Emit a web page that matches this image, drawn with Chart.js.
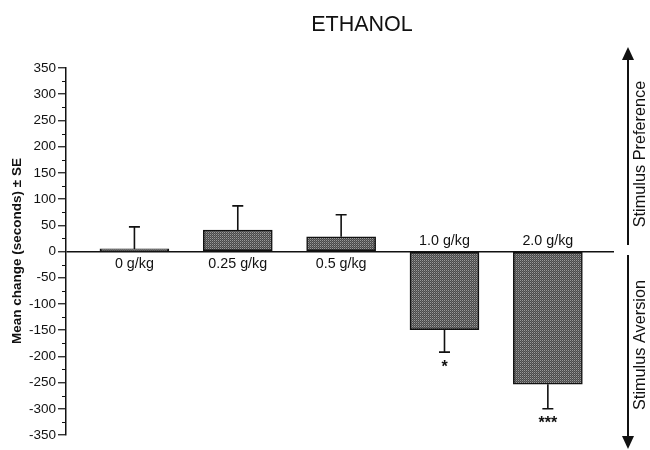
<!DOCTYPE html>
<html>
<head>
<meta charset="utf-8">
<script src="https://cdn.jsdelivr.net/npm/chart.js@4.4.0/dist/chart.umd.min.js"></script>
<style>
html,body{margin:0;padding:0;background:#fff;}
#wrap{width:650px;height:450px;position:relative;}
</style>
</head>
<body>
<div id="wrap"><canvas id="c" width="650" height="450"></canvas></div>
<script>
// ---- data ----
const categories = ["0 g/kg", "0.25 g/kg", "0.5 g/kg", "1.0 g/kg", "2.0 g/kg"];
const means = [5, 41, 28, -149, -253];
const errors = [42, 46, 42, 43, 47];
const significance = ["", "", "", "*", "***"];
const yTicks = [-350, -300, -250, -200, -150, -100, -50, 0, 50, 100, 150, 200, 250, 300, 350];
const titleText = "ETHANOL";
const yAxisLabel = "Mean change (seconds) \u00B1 SE";
const sideLabels = ["Stimulus Preference", "Stimulus Aversion"];

// ---- stipple pattern for bars ----
function makePattern() {
  const p = document.createElement('canvas');
  p.width = 2; p.height = 2;
  const g = p.getContext('2d');
  g.fillStyle = '#4a4a4a'; g.fillRect(0, 0, 2, 2);
  g.fillStyle = '#9a9a9a'; g.fillRect(0, 0, 1, 1);
  g.fillStyle = '#6a6a6a'; g.fillRect(1, 1, 1, 1);
  return g.createPattern(p, 'repeat');
}
const ctx = document.getElementById('c').getContext('2d');
const pattern = makePattern();

const FONT = "'Liberation Sans', Arial, Helvetica, sans-serif";

const decorPlugin = {
  id: 'decor',
  afterDatasetsDraw(chart) {
    const c = chart.ctx;
    const ys = chart.scales.y;
    const meta = chart.getDatasetMeta(0);
    c.save();
    c.strokeStyle = '#111'; c.lineWidth = 1.6;
    means.forEach((m, i) => {
      const bar = meta.data[i];
      const xc = bar.x;
      const y0 = ys.getPixelForValue(m);
      const y1 = ys.getPixelForValue(m + Math.sign(m || 1) * errors[i]);
      c.beginPath(); c.moveTo(xc, y0); c.lineTo(xc, y1);
      c.moveTo(xc - 5.5, y1); c.lineTo(xc + 5.5, y1); c.stroke();
      c.fillStyle = '#111';
      c.font = '14.3px ' + FONT;
      c.textAlign = 'center';
      const yz = ys.getPixelForValue(0);
      if (m >= 0) { c.textBaseline = 'top'; c.fillText(categories[i], xc, yz + 5); }
      else { c.textBaseline = 'bottom'; c.fillText(categories[i], xc, yz - 3); }
      if (significance[i]) {
        c.font = 'bold 16px ' + FONT;
        c.textBaseline = 'top';
        c.fillText(significance[i], xc, y1 + 7);
      }
    });
    c.restore();
  },
  afterDraw(chart) {
    const c = chart.ctx;
    const ys = chart.scales.y;
    const area = chart.chartArea;
    c.save();
    // minor ticks
    c.strokeStyle = '#111'; c.lineWidth = 1;
    for (let v = ys.min; v <= ys.max; v += 25) {
      if (v % 50 !== 0) {
        const y = Math.round(ys.getPixelForValue(v)) + 0.5;
        c.beginPath(); c.moveTo(area.left - 4, y); c.lineTo(area.left, y); c.stroke();
      }
    }
    // title
    c.fillStyle = '#111';
    c.font = '21.5px ' + FONT;
    c.textAlign = 'center'; c.textBaseline = 'middle';
    c.fillText(titleText, 362, 25);
    // y axis label
    c.save();
    c.translate(17, 251); c.rotate(-Math.PI / 2);
    c.font = 'bold 13.5px ' + FONT;
    c.fillText(yAxisLabel, 0, 0);
    c.restore();
    // side arrows
    const ax = 628;
    c.strokeStyle = '#111'; c.lineWidth = 2;
    c.beginPath(); c.moveTo(ax, 58); c.lineTo(ax, 245); c.stroke();
    c.beginPath(); c.moveTo(ax, 255); c.lineTo(ax, 438); c.stroke();
    c.fillStyle = '#111';
    c.beginPath(); c.moveTo(ax, 47); c.lineTo(ax - 6, 60); c.lineTo(ax + 6, 60); c.closePath(); c.fill();
    c.beginPath(); c.moveTo(ax, 449); c.lineTo(ax - 6, 436); c.lineTo(ax + 6, 436); c.closePath(); c.fill();
    // side labels
    c.font = '16.3px ' + FONT;
    c.save(); c.translate(641, 154); c.rotate(-Math.PI / 2); c.fillText(sideLabels[0], 0, 0); c.restore();
    c.save(); c.translate(641, 345); c.rotate(-Math.PI / 2); c.fillText(sideLabels[1], 0, 0); c.restore();
    c.restore();
  }
};

new Chart(ctx, {
  type: 'bar',
  data: {
    datasets: [{
      data: means.map((v, i) => ({ x: i, y: v })),
      backgroundColor: pattern,
      borderColor: '#111',
      borderWidth: 1.5,
      borderSkipped: false,
      barThickness: 69
    }]
  },
  options: {
    responsive: false,
    animation: false,
    events: [],
    layout: { padding: { top: 68, bottom: 15, right: 36, left: 0 } },
    plugins: { legend: { display: false }, tooltip: { enabled: false }, title: { display: false } },
    scales: {
      x: {
        type: 'linear', min: -0.662, max: 4.64, offset: false, display: false
      },
      y: {
        min: -350, max: 350,
        afterFit(scale) { scale.width = 66; },
        afterBuildTicks(scale) {
          const t = [];
          for (let v = -350; v <= 350; v += 25) t.push({ value: v });
          scale.ticks = t;
        },
        border: { display: true, color: '#111', width: 1.5 },
        grid: {
          drawOnChartArea: true,
          color: (c) => (c.tick && c.tick.value === 0) ? '#111' : 'rgba(0,0,0,0)',
          lineWidth: 1.5,
          tickColor: (c) => (c.tick && c.tick.value % 50 === 0) ? '#111' : 'rgba(0,0,0,0)',
          tickLength: 8,
          tickWidth: 1.2
        },
        ticks: {
          autoSkip: false,
          padding: 2,
          color: '#111',
          font: { family: FONT, size: 13.5 },
          callback: (v) => yTicks.includes(v) ? String(v) : ''
        }
      }
    }
  },
  plugins: [decorPlugin]
});
</script>
</body>
</html>
